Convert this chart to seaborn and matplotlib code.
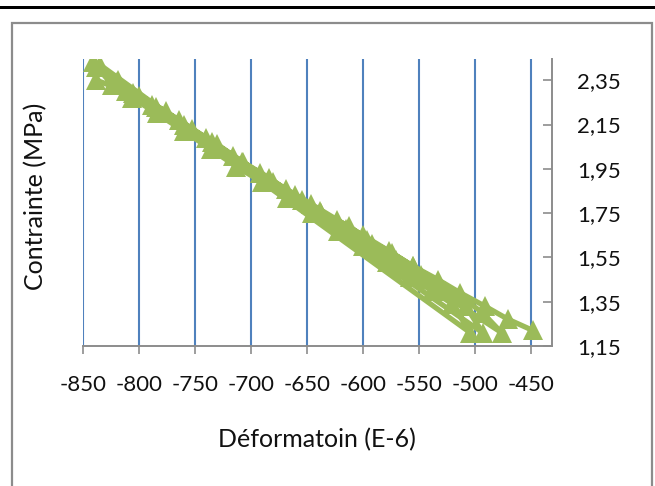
import numpy as np
import pandas as pd
import matplotlib
matplotlib.use("Agg")
import matplotlib.pyplot as plt
from matplotlib.patches import Rectangle
import seaborn as sns

# ---- data ----
path_a_x = [-448, -470, -491, -513, -533, -555, -574, -596, -612, -637, -654, -680, -708, -735, -760, -785, -805, -820, -835]
path_a_y = [1.22, 1.27, 1.33, 1.39, 1.45, 1.51, 1.57, 1.63, 1.69, 1.75, 1.81, 1.89, 1.98, 2.07, 2.15, 2.23, 2.29, 2.34, 2.42]

path_d_x = [-504, -520, -538, -558, -578, -600, -622, -645, -668, -690, -713, -736, -760, -784, -806, -824, -841]
path_d_y = [1.21, 1.34, 1.40, 1.46, 1.53, 1.60, 1.67, 1.75, 1.82, 1.89, 1.96, 2.04, 2.12, 2.20, 2.27, 2.33, 2.43]

path_c_x = [-493, -508, -527, -548, -570, -592, -615, -638, -661, -684, -707, -730, -753, -776, -800, -819, -838]
path_c_y = [1.21, 1.33, 1.40, 1.47, 1.54, 1.61, 1.68, 1.76, 1.83, 1.91, 1.98, 2.06, 2.13, 2.21, 2.28, 2.35, 2.41]

path_b_x = [-476, -493, -512, -533, -555, -577, -600, -623, -646, -669, -692, -716, -740, -764, -788, -812, -838]
path_b_y = [1.21, 1.30, 1.37, 1.44, 1.51, 1.58, 1.65, 1.72, 1.79, 1.86, 1.93, 2.01, 2.09, 2.17, 2.24, 2.30, 2.35]

x_ticks = [-850, -800, -750, -700, -650, -600, -550, -500, -450]
y_ticks = [1.15, 1.35, 1.55, 1.75, 1.95, 2.15, 2.35]
y_tick_labels = ["1,15", "1,35", "1,55", "1,75", "1,95", "2,15", "2,35"]
x_label = "Déformatoin (E-6)"
y_label = "Contrainte (MPa)"

# one continuous series, in recording order
xs = path_a_x + path_d_x + path_c_x + path_b_x
ys = path_a_y + path_d_y + path_c_y + path_b_y
df = pd.DataFrame({"x": xs, "y": ys, "order": np.arange(len(xs))})

sns.set_style("white")
plt.rcParams["font.family"] = ["Lato", "DejaVu Sans"]

W, H = 655, 486
fig = plt.figure(figsize=(W / 100, H / 100), dpi=100)

# top black rule and gray chart frame
fig.add_artist(Rectangle((0, 1 - 9.5 / H), 1, 3.5 / H, transform=fig.transFigure,
                         facecolor="black", edgecolor="none"))
fig.add_artist(Rectangle((12 / W, -0.05), 640 / W, (H - 23) / H + 0.05, transform=fig.transFigure,
                         facecolor="none", edgecolor="#8c8c8c", linewidth=1.6))

ax = fig.add_axes([83 / W, 140 / H, 469 / W, 287.5 / H])

green = "#9BBB59"
sns.lineplot(data=df, x="x", y="y", sort=False, estimator=None, ax=ax,
             color=green, linewidth=3.8, marker="^", markersize=14.5,
             markeredgewidth=0, markerfacecolor=green)

ax.set_xlim(-850, -431)
ax.set_ylim(1.15, 2.448)

ax.set_xticks(x_ticks)
ax.set_xticklabels([str(v) for v in x_ticks])
ax.set_yticks(y_ticks)
ax.set_yticklabels(y_tick_labels)
ax.yaxis.tick_right()

ax.xaxis.grid(True, color="#4F81BD", linewidth=1.5)
ax.yaxis.grid(False)
ax.set_axisbelow(True)

for s in ["left", "top"]:
    ax.spines[s].set_visible(False)
for s in ["bottom", "right"]:
    ax.spines[s].set_color("#8c8c8c")
    ax.spines[s].set_linewidth(1.4)

ax.tick_params(axis="x", direction="out", length=6, width=1.2, color="#8c8c8c",
               pad=15, labelsize=16, labelcolor="#111111", bottom=True)
ax.tick_params(axis="y", direction="in", length=6.5, width=1.2, color="#8c8c8c",
               pad=18, labelsize=16, labelcolor="#111111", right=True, left=False)

ax.set_xlabel("")
ax.set_ylabel("")
fig.text(317 / W, 1 - 440 / H, x_label, ha="center", va="center", fontsize=18, color="#111111")
fig.text(36 / W, 1 - 196 / H, y_label, ha="center", va="center", rotation=90,
         fontsize=18, color="#111111")

fig.savefig("out.png", dpi=100)
